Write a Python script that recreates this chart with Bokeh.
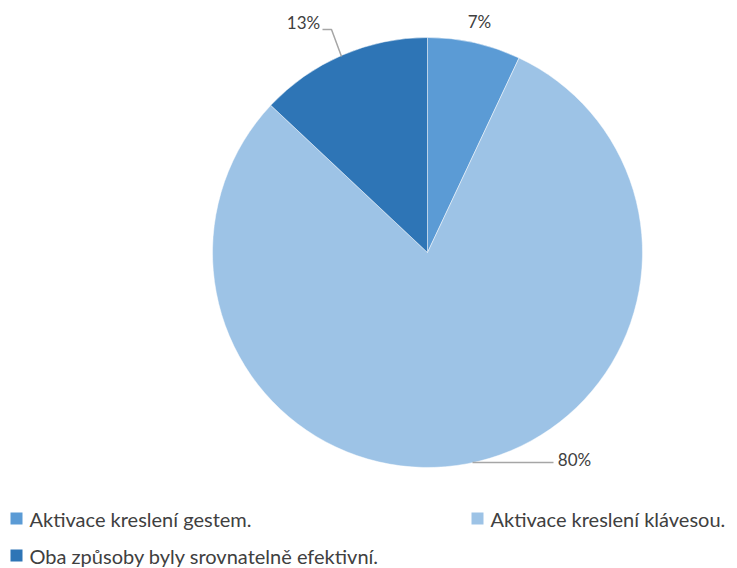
import numpy as np
from bokeh.plotting import figure
from bokeh.models import Range1d, ColumnDataSource
from bokeh.core.properties import value
from bokeh.embed import file_html
from bokeh.resources import INLINE

categories = ["Aktivace kreslení gestem.", "Aktivace kreslení klávesou.", "Oba způsoby byly srovnatelně efektivní."]
values = [7, 80, 13]
labels = ["7%", "80%", "13%"]
colors = ["#5B9BD5", "#9DC3E6", "#2E75B6"]

W, H = 737, 568
FONT = "Lato"
TXT = "#404040"

def Y(py):
    return H - py

p = figure(width=W, height=H, output_backend="svg", toolbar_location=None,
           x_range=Range1d(0, W), y_range=Range1d(0, H), min_border=0)
p.axis.visible = False
p.grid.visible = False
p.outline_line_color = None
p.background_fill_color = "white"

cx, cy, r = 427, Y(252), 215
frac = np.array(values, dtype=float) / sum(values)
cum = np.concatenate([[0], np.cumsum(frac)])
start = np.pi / 2 - 2 * np.pi * cum[1:]
end = np.pi / 2 - 2 * np.pi * cum[:-1]
src = ColumnDataSource(dict(x=[cx] * 3, y=[cy] * 3, s=start, e=end, c=colors))
p.wedge(x="x", y="y", radius=r, start_angle="s", end_angle="e", fill_color="c",
        line_color="white", line_width=0.6, line_alpha=0.8, source=src)

# leader lines
p.line([322, 331, 341], [Y(29), Y(29), Y(56)], line_color="#A6A6A6", line_width=1.5)
p.line([472, 553], [Y(462), Y(462)], line_color="#A6A6A6", line_width=1.5)

# data labels
lab_x = [479, 574, 303]
lab_y = [Y(21), Y(459), Y(22)]
p.text(x=lab_x, y=lab_y, text=labels, text_align="center", text_baseline="middle",
       text_font=value(FONT), text_font_size="17px", text_color=TXT)

# legend
leg_x = [16, 477, 16]
leg_y = [Y(518), Y(518), Y(555)]
p.rect(x=leg_x, y=leg_y, width=12, height=12, fill_color=colors, line_color=None)
p.text(x=[x + 13 for x in leg_x], y=leg_y, text=categories, text_align="left",
       text_baseline="middle", text_font=value(FONT), text_font_size="20px", text_color=TXT)

open("out.html", "w").write(file_html(p, INLINE))
